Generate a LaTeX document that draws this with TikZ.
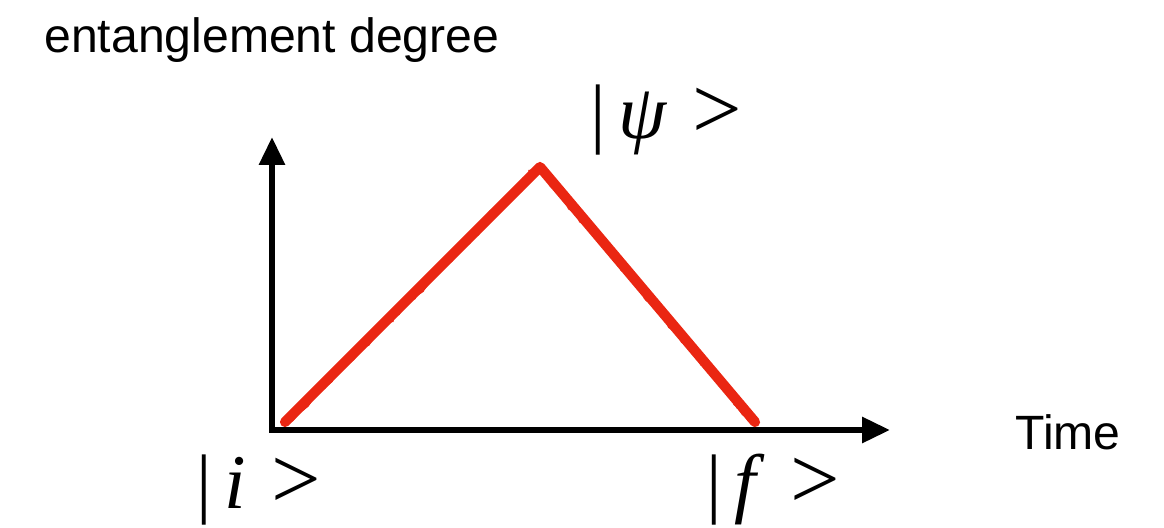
\documentclass[tikz,border=0pt]{standalone}
\usepackage{fontspec}
\setmainfont{Liberation Sans}
\newfontfamily\ketfont{Liberation Serif}
\usepackage{tikz}
\usetikzlibrary{arrows.meta,decorations.pathmorphing}
\definecolor{sketchred}{RGB}{234,38,18}
\newcommand{\bigangle}{\hspace{5mm}{\fontsize{50}{50}\selectfont >}}

\begin{document}
\begin{tikzpicture}[x=0.2mm,y=-0.2mm,font=\fontsize{27.4}{30}\selectfont,
  axis/.style={line width=3.4pt,draw=black,-{Triangle[length=5.6mm,width=5mm]}},
  curve/.style={line width=5.8pt,draw=sketchred,line cap=round,line join=round},
  rough/.style={line width=1.6pt,draw=sketchred,decorate,decoration={random steps,segment length=3pt,amplitude=1.3pt}},
  ket/.style={anchor=west,inner sep=0pt,font=\ketfont\fontsize{44}{48}\selectfont}]
\useasboundingbox (0,0) rectangle (1164,528);
\coordinate (origin) at (272,430);
\coordinate (ytip) at (272,137);
\coordinate (xtip) at (890,430);
\coordinate (start) at (285,422);
\coordinate (peak) at (540,167);
\coordinate (stop) at (755,422);
\draw[axis] ([yshift=-0.3mm]origin) -- (ytip);
\draw[axis] ([xshift=-0.6mm]origin) -- (xtip);
% sketchy red line
\draw[curve] (start) -- (peak) -- (stop);
\draw[rough] ([xshift=0.7mm]start) -- ([yshift=0.6mm]peak) -- ([xshift=-0.7mm]stop);
\draw[rough] ([yshift=-0.5mm]start) -- ([yshift=-0.8mm]peak) -- ([yshift=-0.5mm]stop);
\node[anchor=west,inner sep=0pt] (ylabel) at (44,40) {entanglement degree};
\node[anchor=west,inner sep=0pt] (xlabel) at (1015,432) {Time};
\node[ket] (psi) at (590,120) {|\,\textit{ψ}\bigangle};
\node[ket] (init) at (196,490) {|\,\textit{i}\bigangle};
\node[ket] (final) at (706,490) {|\,\textit{f}\bigangle};
\end{tikzpicture}
\end{document}
